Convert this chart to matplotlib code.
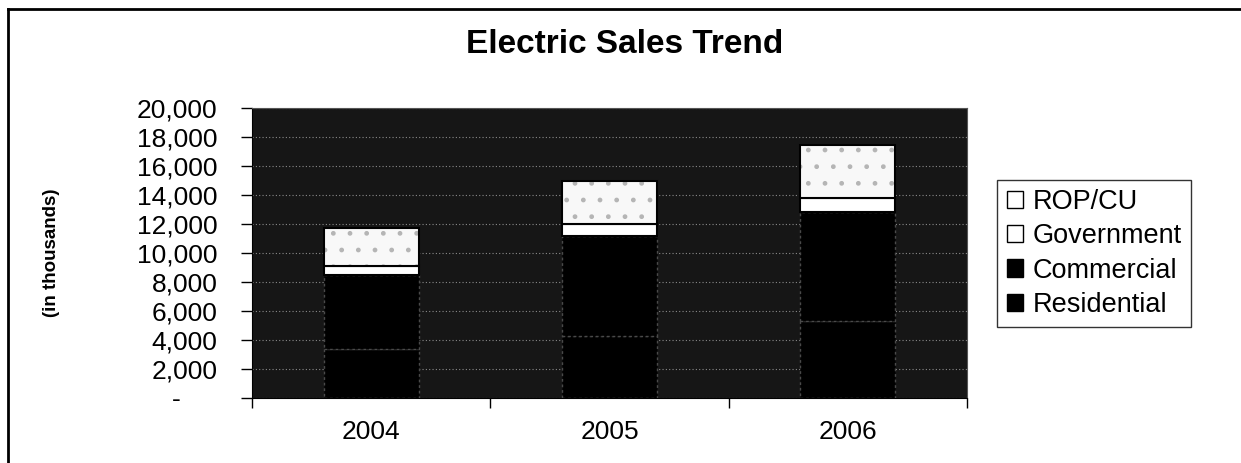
import matplotlib.pyplot as plt
from matplotlib.lines import Line2D
from matplotlib.patches import Patch
import numpy as np

plt.rcParams['font.family'] = ['Liberation Sans', 'DejaVu Sans']

years = ['2004', '2005', '2006']
residential = [3400, 4250, 5300]
commercial = [5050, 6890, 7540]
government = [620, 840, 930]
rop_cu = [2680, 3020, 3670]

fig = plt.figure(figsize=(12.41, 4.63), dpi=100)
ax = fig.add_axes([0.2031, 0.1404, 0.5761, 0.6263])
ax.set_facecolor('#161616')

x = np.arange(len(years))
w = 0.4
res = np.array(residential)
com = np.array(commercial)
gov = np.array(government)
rop = np.array(rop_cu)

# stacked bars, bottom to top
ax.bar(x, res, w, color='black', edgecolor='#4a4a4a', linewidth=1, linestyle=(0, (2, 2)), zorder=3)
ax.bar(x, com, w, bottom=res, color='black', edgecolor='#4a4a4a', linewidth=1, linestyle=(0, (2, 2)), zorder=3)
ax.bar(x, gov, w, bottom=res + com, color='white', edgecolor='black', linewidth=1.5, zorder=3)
ax.bar(x, rop, w, bottom=res + com + gov, color='#f8f8f8', edgecolor='#b5b5b5', hatch='.', linewidth=0, zorder=3)
ax.bar(x, rop, w, bottom=res + com + gov, color='none', edgecolor='black', linewidth=1.5, zorder=4)

ax.set_xlim(-0.5, 2.5)
ax.set_ylim(0, 20000)
ax.set_yticks(np.arange(0, 20001, 2000))
ax.set_yticklabels(['-     '] + [f'{v:,}' for v in range(2000, 20001, 2000)], fontsize=19)
ax.set_xticks([-0.5, 0.5, 1.5, 2.5])
ax.set_xticklabels([])
ax.set_xticks(x, minor=True)
ax.set_xticklabels(years, minor=True, fontsize=19)
ax.tick_params(axis='x', which='minor', length=0, pad=16)
ax.tick_params(axis='x', which='major', length=7, direction='out', width=1)
ax.tick_params(axis='y', length=8, direction='out', width=1, pad=17)
ax.yaxis.grid(True, color='#8a8a8a', linestyle=(0, (1, 2)), linewidth=0.8)
ax.set_axisbelow(True)
for s in ['top', 'right']:
    ax.spines[s].set_color('#555555')

ax.set_ylabel('(in thousands)', fontsize=13.5, fontweight='bold', labelpad=0)
ax.yaxis.set_label_coords(-0.268, 0.5)

fig.text(0.5036, 0.903, 'Electric Sales Trend', ha='center', va='center', fontsize=24, fontweight='bold')

handles = [Patch(facecolor='white', edgecolor='black', label='ROP/CU'),
           Patch(facecolor='white', edgecolor='black', label='Government'),
           Patch(facecolor='black', edgecolor='black', label='Commercial'),
           Patch(facecolor='black', edgecolor='black', label='Residential')]
leg = fig.legend(handles=handles, loc='center left', bbox_to_anchor=(0.8035, 0.4525),
                 fontsize=19.5, frameon=True, fancybox=False, handlelength=0.6, handleheight=0.6,
                 handletextpad=0.35, labelspacing=0.3, borderpad=0.35, borderaxespad=0)
leg.get_frame().set_edgecolor('black')
leg.get_frame().set_linewidth(1)

fig.add_artist(Line2D([0.0065, 0.0065], [0.0, 0.981], transform=fig.transFigure, color='black', linewidth=2))
fig.add_artist(Line2D([0.0065, 1.0], [0.981, 0.981], transform=fig.transFigure, color='black', linewidth=2))

fig.savefig('out.png', dpi=100)
